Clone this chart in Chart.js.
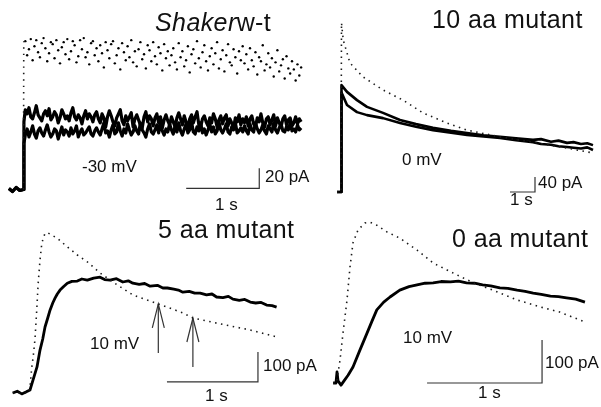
<!DOCTYPE html>
<html>
<head>
<meta charset="utf-8">
<script src="https://cdn.jsdelivr.net/npm/chart.js@4.4.1/dist/chart.umd.min.js"></script>
<style>
  html, body { margin: 0; padding: 0; background: #fff; }
  #fig { position: relative; width: 601px; height: 407px; overflow: hidden; }
  #fig canvas { position: absolute; }
  .lbl { position: absolute; font-family: "Liberation Sans", Arial, sans-serif; color: #111; line-height: 1; white-space: nowrap; }
  .ttl { font-size: 25px; letter-spacing: 0.4px; }
  .sm { font-size: 17px; }
</style>
</head>
<body>
<div id="fig">
  <canvas id="p1"></canvas>
  <canvas id="p2"></canvas>
  <canvas id="p3"></canvas>
  <canvas id="p4"></canvas>

  <span class="lbl ttl" style="left:155px; top:10px;"><i>Shaker</i>w-t</span>
  <span class="lbl ttl" style="left:432px; top:7px;">10 aa mutant</span>
  <span class="lbl ttl" style="left:158px; top:217px;">5 aa mutant</span>
  <span class="lbl ttl" style="left:452px; top:226px;">0 aa mutant</span>

  <span class="lbl sm" style="left:82px; top:158px;">-30 mV</span>
  <span class="lbl sm" style="left:402px; top:151px;">0 mV</span>
  <span class="lbl sm" style="left:90px; top:335px;">10 mV</span>
  <span class="lbl sm" style="left:403px; top:329px;">10 mV</span>

  <span class="lbl sm" style="left:265px; top:168px;">20 pA</span>
  <span class="lbl sm" style="left:215px; top:196px;">1 s</span>
  <span class="lbl sm" style="left:538px; top:174px;">40 pA</span>
  <span class="lbl sm" style="left:510px; top:191px;">1 s</span>
  <span class="lbl sm" style="left:263px; top:357px;">100 pA</span>
  <span class="lbl sm" style="left:205px; top:387px;">1 s</span>
  <span class="lbl sm" style="left:545px; top:354px;">100 pA</span>
  <span class="lbl sm" style="left:478px; top:384px;">1 s</span>
</div>
<script>
// ---- Shaker w-t, -30 mV (currents in pA, one sample every 0.025 s after the step at t = 0)
const shakerDt = 0.025;
const shakerBaseT = [-0.2, -0.15, -0.1, -0.05, 0];
const shakerBase = [1, -2, 2, -1, 0];
const shakerTraceA = [
    79, 75, 81, 72, 70, 76, 83, 74, 71, 68, 75, 78, 73, 80, 69, 72, 77, 74, 66, 71, 79, 75, 70, 73, 68, 76, 81, 72, 69, 74, 71, 65, 73, 78, 70, 75, 72, 67, 74, 77,
    70, 66, 75, 71, 62, 72, 78, 73, 67, 63, 71, 75, 79, 68, 64, 73, 68, 72, 76, 62, 70, 74, 69, 64, 61, 72, 77, 67, 73, 70, 63, 71, 75, 66, 72, 61, 69, 74, 68, 64,
    72, 67, 62, 71, 76, 70, 64, 73, 67, 61, 70, 74, 66, 72, 77, 64, 62, 70, 73, 67, 63, 71, 66, 75, 70, 62, 69, 73, 65, 71, 74, 63, 70, 66, 61, 71, 67, 74, 64, 70,
    66, 72, 63, 70, 73, 65, 62, 71, 67, 75, 66, 62, 70, 72, 64, 69, 74, 63, 71, 66, 62, 70, 73, 64, 69, 71, 63, 66, 72, 65, 70, 67];
const shakerTraceB = [
    54, 60, 52, 57, 63, 55, 51, 58, 61, 56, 53, 59, 64, 57, 52, 55, 60, 58, 50, 56, 62, 54, 59, 57, 53, 61, 55, 58, 63, 52, 57, 60, 54, 56, 59, 62, 55, 53, 58, 61,
    57, 54, 60, 66, 56, 58, 52, 59, 64, 55, 57, 66, 58, 53, 60, 56, 65, 59, 54, 57, 63, 58, 55, 66, 59, 56, 52, 60, 65, 57, 55, 59, 64, 56, 67, 58, 54, 60, 57, 65,
    59, 55, 63, 57, 66, 58, 54, 60, 65, 56, 59, 67, 57, 55, 62, 58, 66, 56, 60, 54, 59, 65, 57, 62, 55, 58, 67, 59, 56, 60, 65, 57, 55, 62, 59, 66, 56, 58, 61, 57,
    63, 58, 55, 65, 59, 57, 66, 60, 56, 59, 64, 58, 55, 63, 60, 57, 66, 59, 56, 61, 65, 58, 57, 62, 59, 66, 58, 60, 57, 64, 59, 61];
const shakerDotted = [
    147, 133, 139, 149, 128, 142, 148, 136, 131, 145, 150, 140, 127, 135, 146, 144, 130, 148, 138, 125, 141, 146, 134, 149, 129, 137, 147, 143, 126, 132, 148, 139, 150, 131, 136, 124, 145, 147, 133, 140,
    127, 143, 135, 121, 146, 138, 130, 144, 147, 125, 133, 140, 119, 145, 136, 128, 142, 131, 148, 126, 137, 122, 139, 146, 129, 134, 120, 143, 138, 127, 146, 132, 124, 141, 135, 118, 144, 130, 137, 123,
    133, 140, 126, 119, 145, 131, 137, 122, 128, 142, 116, 134, 139, 125, 147, 130, 121, 136, 143, 127, 118, 132, 140, 124, 135, 146, 120, 129, 138, 117, 133, 144, 126, 123, 139, 131, 115, 137, 128, 142,
    125, 134, 119, 140, 128, 122, 136, 114, 131, 127, 143, 118, 124, 135, 121, 130, 112, 126, 138, 117, 123, 129, 110, 132, 120, 115, 127, 119, 108, 124, 113, 121];

// ---- 10 aa mutant, 0 mV (time in s, current in pA)
const aa10SolidT = [-0.16, 0, 0.02, 0.24, 0.64, 1.04, 1.68, 2.36, 3.0, 3.68, 4.4, 5.04, 5.7, 6.36, 7.0, 7.68, 8.0, 8.4, 8.7, 9.04, 9.3, 9.6, 9.85, 10.08];
const aa10SolidA = [0, 0, 285, 267, 245, 227, 211, 192, 181, 171, 163, 157, 151, 147, 143, 139, 141, 134, 137, 131, 133, 128, 130, 125];
const aa10SolidB = [0, 0, 265, 232, 213, 205, 197, 184, 174, 165, 158, 152, 148, 144, 138, 133, 128, 126, 122, 120, 118, 116, 119, 112];
const aa10DotT = [-0.16, 0, 0.02, 0.09, 0.36, 0.88, 1.68, 2.48, 3.28, 4.24, 5.04, 6.36, 7.68, 9.04, 10.08];
const aa10Dot = [0, 0, 451, 405, 344, 307, 272, 245, 211, 184, 165, 147, 133, 117, 104];

// ---- 5 aa mutant, 10 mV
const aa5SolidT = [-0.19, -0.14, -0.09, -0.04, 0, 0.033, 0.077, 0.11, 0.14, 0.165, 0.195, 0.22, 0.25, 0.275, 0.3, 0.33, 0.37,
    0.41, 0.46, 0.52, 0.57, 0.63, 0.7, 0.77, 0.82, 0.88, 0.95, 1.02, 1.08, 1.13, 1.2, 1.26, 1.32, 1.4, 1.46, 1.51,
    1.58, 1.63, 1.68, 1.75, 1.81, 1.87, 1.94, 2.0, 2.05, 2.12, 2.18, 2.23, 2.3, 2.36, 2.42, 2.48, 2.54, 2.6, 2.66, 2.71];
const aa5Solid = [0, 6, -3, 4, 10, 43, 87, 143, 180, 220, 250, 276, 300, 316, 330, 343, 355,
    366, 372, 373, 380, 376, 383, 386, 378, 376, 381, 370, 374, 366, 362, 365, 356, 359, 350, 350,
    346, 343, 336, 339, 333, 333, 327, 330, 320, 318, 322, 313, 309, 312, 303, 300, 302, 293, 291, 286];
const aa5DotT = [-0.19, -0.02, 0, 0.02, 0.036, 0.055, 0.074, 0.09, 0.11, 0.13, 0.165, 0.2, 0.3, 0.41, 0.52, 0.63,
    0.77, 0.96, 1.13, 1.41, 1.68, 1.79, 2.05, 2.42, 2.71];
const aa5Dot = [0, 0, 20, 87, 123, 180, 276, 366, 443, 500, 533, 533, 516, 487, 460, 437,
    400, 360, 327, 297, 267, 250, 233, 210, 187];
const aa5ArrowT = [1.41, 1.79];
const aa5ArrowTip = [297, 250];

// ---- 0 aa mutant, 10 mV
const aa0SolidT = [-0.06, -0.035, -0.026, -0.017, 0.009, 0.035, 0.07, 0.113, 0.174, 0.235, 0.28, 0.32, 0.38, 0.435,
    0.52, 0.6, 0.67, 0.74, 0.81, 0.88, 0.96, 1.03, 1.1, 1.17, 1.24, 1.31, 1.39, 1.46, 1.54, 1.61, 1.68, 1.75,
    1.83, 1.9, 1.97, 2.05, 2.13];
const aa0Solid = [0, 0, 26, 5, -5, 5, 18, 37, 77, 116, 145, 170, 188, 200,
    216, 224, 228, 232, 233, 236, 235, 237, 233, 232, 228, 226, 221, 220, 216, 213, 209, 206,
    202, 201, 198, 195, 188];
const aa0DotT = [-0.06, -0.03, 0, 0.026, 0.061, 0.087, 0.113, 0.157, 0.217, 0.26, 0.32, 0.41, 0.52, 0.67, 0.81,
    0.93, 1.02, 1.16, 1.33, 1.54, 1.74, 1.91, 2.13];
const aa0Dot = [0, 0, 53, 116, 193, 270, 326, 356, 372, 374, 367, 351, 337, 309, 279,
    263, 251, 233, 216, 193, 177, 165, 142];

// scale bars (s, pA)
const barSec = [1, 1, 1, 1];
const barPA = [20, 40, 100, 100];

// ---------------- layout / styles ----------------
const panels = [
    { id: 'p1', left: 0, top: 0, w: 310, h: 205, x0: 20, y0: 193, pxPerSec: 75, pxPerPA: 1.05, bar: [2.227, 1] },
    { id: 'p2', left: 300, top: 0, w: 301, h: 205, x0: 341, y0: 192, pxPerSec: 25, pxPerPA: 0.375, bar: [6.76, 0] },
    { id: 'p3', left: 0, top: 205, w: 300, h: 202, x0: 30, y0: 393, pxPerSec: 91, pxPerPA: 0.30, bar: [1.505, 37] },
    { id: 'p4', left: 300, top: 205, w: 301, h: 202, x0: 340, y0: 383, pxPerSec: 115, pxPerPA: 0.43, bar: [0.757, 0] }
];

const pts = (ts, vs) => ts.map((t, i) => ({ x: t, y: vs[i] }));
const sampled = (vs) => vs.map((v, i) => ({ x: shakerDt * (i + 1), y: v }));
const stepped = (vs) => pts(shakerBaseT, shakerBase).concat([{ x: 0.006, y: vs[0] * 0.85 }], sampled(vs));

function solid(data, width = 2.6) {
    return { data, showLine: true, borderColor: '#000', borderWidth: width, pointRadius: 0, tension: 0, borderJoinStyle: 'round' };
}
function dotted(data, dash = [1.5, 4.5]) {
    return { data, showLine: true, borderColor: '#1a1a1a', borderWidth: 1.6, borderDash: dash, pointRadius: 0, tension: 0 };
}
function dots(data) {
    return { data, showLine: false, pointRadius: 1.2, pointBorderWidth: 0, pointBackgroundColor: '#000' };
}
function thin(data) {
    return { data, showLine: true, borderColor: '#333', borderWidth: 1.2, pointRadius: 0, tension: 0 };
}
function scaleBar(p, k) {
    const [t, i] = p.bar;
    return thin([{ x: t, y: i }, { x: t + barSec[k], y: i }, { x: t + barSec[k], y: i + barPA[k] }]);
}
function arrows(p) {
    const out = [];
    const headT = 6 / p.pxPerSec, headPA = 24 / p.pxPerPA, tailPA = 49 / p.pxPerPA;
    aa5ArrowT.forEach((t, k) => {
        const tip = aa5ArrowTip[k];
        out.push(thin([{ x: t, y: tip - tailPA }, { x: t, y: tip }]));
        out.push(thin([{ x: t - headT, y: tip - headPA }, { x: t, y: tip }, { x: t + headT, y: tip - headPA }]));
    });
    return out;
}

const panelData = [
    [
        dotted([{ x: 0, y: 0 }, { x: 0.004, y: shakerDotted[0] }], [1.4, 5]),
        dots(sampled(shakerDotted)),
        solid(stepped(shakerTraceB), 3.2),
        solid(stepped(shakerTraceA), 3.2)
    ],
    [dotted(pts(aa10DotT, aa10Dot)), solid(pts(aa10SolidT, aa10SolidB), 2.6), solid(pts(aa10SolidT, aa10SolidA), 2.6)],
    [dotted(pts(aa5DotT, aa5Dot)), solid(pts(aa5SolidT, aa5Solid), 2.8)].concat(arrows(panels[2])),
    [dotted(pts(aa0DotT, aa0Dot)), solid(pts(aa0SolidT, aa0Solid), 2.8)]
];

panels.forEach((p, k) => {
    const el = document.getElementById(p.id);
    el.width = p.w; el.height = p.h;
    el.style.left = p.left + 'px'; el.style.top = p.top + 'px';
    el.style.width = p.w + 'px'; el.style.height = p.h + 'px';

    const xMin = -(p.x0 - p.left) / p.pxPerSec;
    const xMax = xMin + p.w / p.pxPerSec;
    const yMax = (p.y0 - p.top) / p.pxPerPA;
    const yMin = yMax - p.h / p.pxPerPA;

    new Chart(el, {
        type: 'scatter',
        data: { datasets: panelData[k].concat([scaleBar(p, k)]) },
        options: {
            responsive: false,
            animation: false,
            events: [],
            layout: { padding: 0 },
            plugins: { legend: { display: false }, tooltip: { enabled: false } },
            scales: {
                x: { type: 'linear', display: false, min: xMin, max: xMax },
                y: { type: 'linear', display: false, min: yMin, max: yMax }
            }
        }
    });
});
</script>
</body>
</html>
